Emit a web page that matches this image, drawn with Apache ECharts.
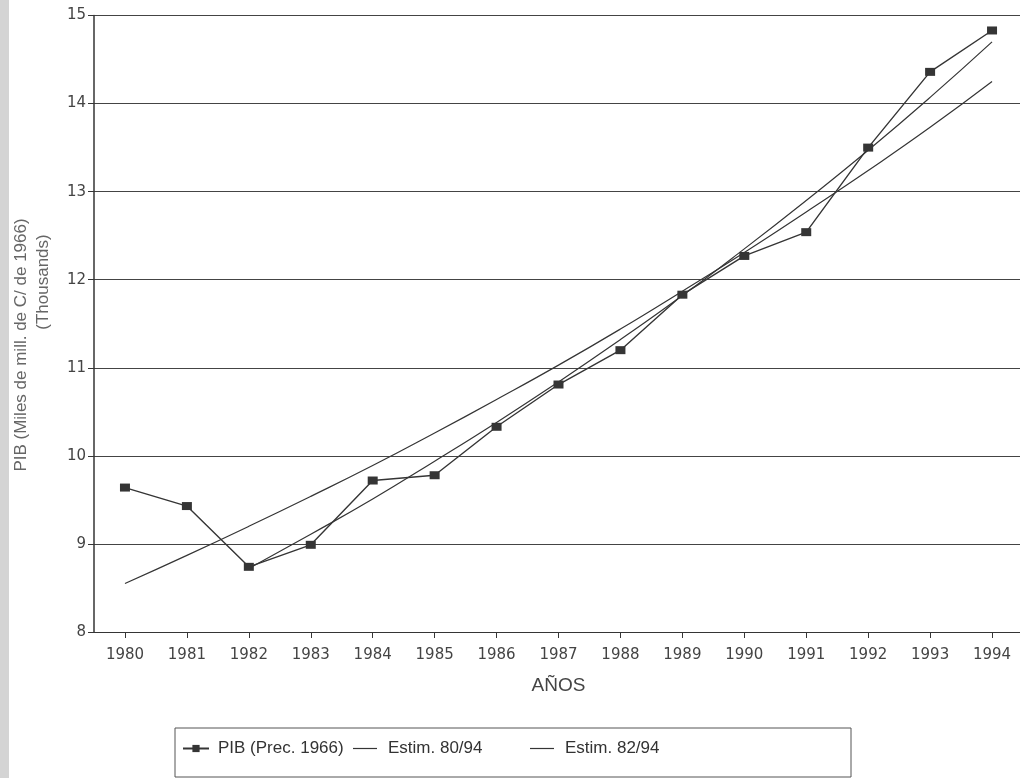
<!DOCTYPE html>
<html>
<head>
<meta charset="utf-8">
<script src="https://cdn.jsdelivr.net/npm/echarts@6/dist/echarts.min.js"></script>
<style>html,body{margin:0;padding:0;background:#fff;overflow:hidden}#c{width:1023px;height:778px}</style>
</head>
<body>
<div id="c"></div>
<script>
var years = ['1980','1981','1982','1983','1984','1985','1986','1987','1988','1989','1990','1991','1992','1993','1994'];
var pib = [9.64, 9.43, 8.74, 8.99, 9.72, 9.78, 10.33, 10.81, 11.2, 11.83, 12.27, 12.54, 13.5, 14.36, 14.83];
var estim8094 = [8.55, 8.87, 9.2, 9.54, 9.89, 10.26, 10.64, 11.03, 11.44, 11.87, 12.31, 12.77, 13.24, 13.73, 14.25];
var estim8294 = [null, null, 8.72, 9.11, 9.51, 9.94, 10.38, 10.84, 11.32, 11.82, 12.35, 12.9, 13.47, 14.07, 14.7];
var yTicks = [8, 9, 10, 11, 12, 13, 14, 15];
var seriesNames = ['PIB (Prec. 1966)', 'Estim. 80/94', 'Estim. 82/94'];

var ink = '#353535';
var font = '"Liberation Sans", Arial, sans-serif';
var wide = '"DejaVu Sans", sans-serif';
var chart = echarts.init(document.getElementById('c'));
function leg(name, left, isLine) {
  var l = {
    data: [name], left: left, top: 740, orient: 'horizontal',
    itemWidth: isLine ? 24 : 26, itemHeight: isLine ? 1.2 : 9, itemGap: 0, padding: 0,
    textStyle: {fontFamily: font, fontSize: 17, color: '#333', padding: [0, 0, 0, isLine ? 6 : 4]},
    selectedMode: false
  };
  if (isLine) { l.data = [{name: name, icon: 'rect'}]; }
  return l;
}
chart.setOption({
  animation: false,
  backgroundColor: '#fff',
  grid: {left: 94, right: 0, top: 15.5, bottom: 146, containLabel: false},
  legend: [leg(seriesNames[0], 182, false), leg(seriesNames[1], 353, true), leg(seriesNames[2], 530, true)],
  graphic: [
    {type: 'rect', shape: {x: 0, y: 0, width: 9, height: 778}, style: {fill: '#d4d4d4'}, silent: true},
    {type: 'rect', shape: {x: 175, y: 728, width: 676, height: 49}, style: {fill: 'none', stroke: '#555', lineWidth: 1}, silent: true},
    {type: 'text', x: 21, y: 345, rotation: Math.PI / 2,
     style: {text: 'PIB (Miles de mill. de C/ de 1966)', font: '17px ' + font, fill: '#666', align: 'center', verticalAlign: 'middle'}},
    {type: 'text', x: 43, y: 282, rotation: Math.PI / 2,
     style: {text: '(Thousands)', font: '17px ' + font, fill: '#666', align: 'center', verticalAlign: 'middle'}}
  ],
  xAxis: {
    type: 'category', data: years, boundaryGap: true,
    name: 'AÑOS', nameLocation: 'middle', nameGap: 44,
    nameTextStyle: {fontFamily: font, fontSize: 19, color: '#444'},
    axisLine: {show: true, lineStyle: {color: ink, width: 1}},
    axisTick: {show: true, alignWithLabel: true, length: 6, lineStyle: {color: ink}},
    axisLabel: {fontFamily: wide, fontSize: 15, color: '#444', margin: 16},
    splitLine: {show: false}
  },
  yAxis: {
    type: 'value', min: yTicks[0], max: yTicks[yTicks.length - 1], interval: 1,
    axisLine: {show: true, lineStyle: {color: ink, width: 1.5}},
    axisTick: {show: true, length: 6, lineStyle: {color: ink}},
    axisLabel: {fontFamily: wide, fontSize: 15, color: '#444', margin: 8},
    splitLine: {show: true, lineStyle: {color: '#444', width: 1.2}}
  },
  series: [
    {name: seriesNames[0], type: 'line', data: pib, symbol: 'rect', symbolSize: [10, 8],
     itemStyle: {color: ink}, lineStyle: {color: ink, width: 1.4}, z: 5},
    {name: seriesNames[1], type: 'line', data: estim8094, symbol: 'none', smooth: true,
     itemStyle: {color: ink}, lineStyle: {color: ink, width: 1.2}},
    {name: seriesNames[2], type: 'line', data: estim8294, symbol: 'none', smooth: true,
     itemStyle: {color: ink}, lineStyle: {color: ink, width: 1.2}}
  ]
});
</script>
</body>
</html>
